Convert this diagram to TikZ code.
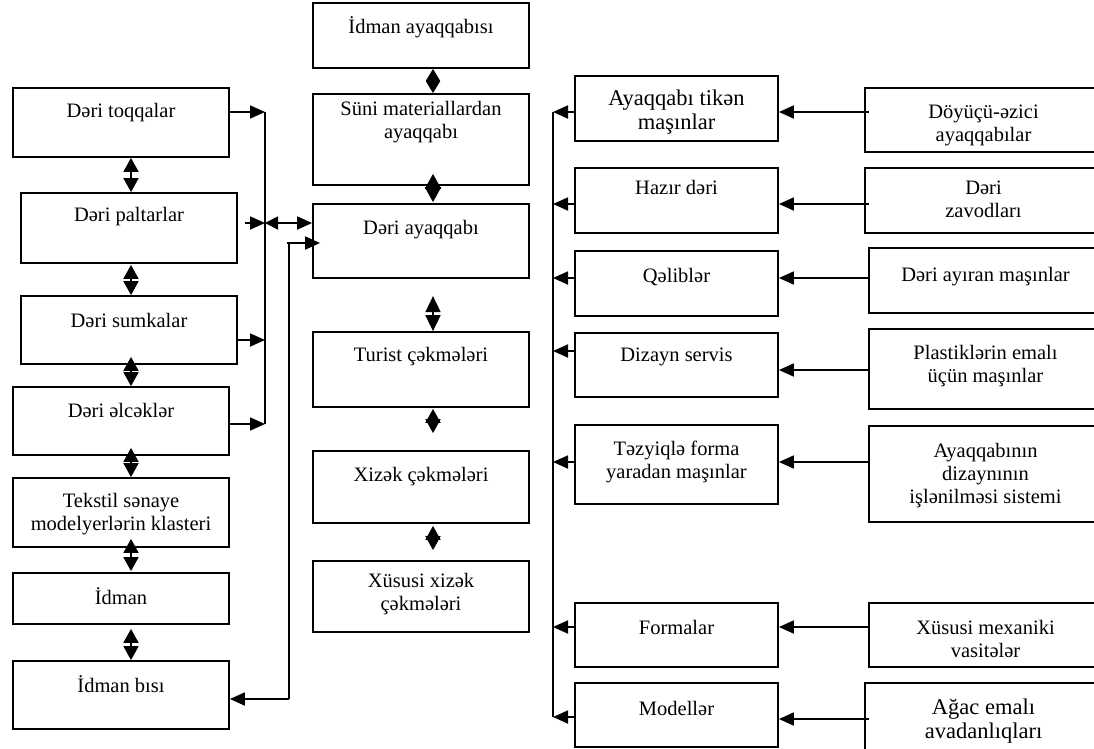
\documentclass[tikz,border=0pt]{standalone}
\usepackage{fontspec}
\setmainfont{Liberation Serif}
\usetikzlibrary{arrows.meta,calc}
\newcommand{\mkbox}[8]{% name, x1, y1, x2, y2, text y, font, text
  \node[box, minimum width={(#4)-(#2)}, minimum height={(#5)-(#3)}] (#1) at ({((#2)+(#4))/2},{((#3)+(#5))/2}) {};
  \node[txt, font=#7] (#1t) at ({((#2)+(#4))/2},{#6}) {#8};
}
\begin{document}
\begin{tikzpicture}[x=1pt,y=-1pt,
  box/.style={draw, line width=1.8pt, inner sep=0pt},
  txt/.style={align=center, inner sep=0pt},
  arr/.style={line width=1.8pt, -{Triangle[length=15pt,width=13pt]}},
  dbl/.style={line width=1.8pt, {Triangle[length=14pt,width=15pt]}-{Triangle[length=14pt,width=15pt]}},
  dblr/.style={line width=1.8pt, {Triangle[length=13pt,width=13pt]}-{Triangle[length=15pt,width=13pt]}},
  diam/.style={line width=1.8pt, {Triangle[length=15pt,width=16pt]}-{Triangle[length=15pt,width=16pt]}},
  line/.style={line width=1.8pt}]
\def\fn{\fontsize{20.5}{23}\selectfont}
\def\fb{\fontsize{22.5}{23.5}\selectfont}
\useasboundingbox (0,0) rectangle (1094,748);
\clip (0,0) rectangle (1094,748);
% left column
\mkbox{b1}{13}{88}{229}{157}{113}{\fn}{Dəri toqqalar}
\mkbox{b2}{21}{193}{237}{263}{217}{\fn}{Dəri paltarlar}
\mkbox{b3}{21}{296}{237}{364}{320}{\fn}{Dəri sumkalar}
\mkbox{b4}{13}{387}{229}{455}{410}{\fn}{Dəri əlcəklər}
\mkbox{b5}{13}{478}{229}{547}{514}{\fn}{Tekstil sənaye\\modelyerlərin klasteri}
\mkbox{b6}{13}{573}{229}{624}{596}{\fn}{İdman}
\mkbox{b7}{13}{661}{229}{729}{684}{\fn}{İdman bısı}
% middle column
\mkbox{m1}{313}{3}{529}{68}{27}{\fn}{İdman ayaqqabısı}
\mkbox{m2}{313}{94}{529}{185}{122}{\fn}{Süni materiallardan\\ayaqqabı}
\mkbox{m3}{313}{204}{529}{278}{230}{\fn}{Dəri ayaqqabı}
\mkbox{m4}{313}{332}{529}{407}{357}{\fn}{Turist çəkmələri}
\mkbox{m5}{313}{451}{529}{523}{477}{\fn}{Xizək çəkmələri}
\mkbox{m6}{313}{561}{529}{632}{594}{\fn}{Xüsusi xizək\\çəkmələri}
% right column
\mkbox{r1}{575}{76}{778}{141}{112}{\fb}{Ayaqqabı tikən\\maşınlar}
\mkbox{r2}{575}{168}{778}{233}{187}{\fn}{Hazır dəri}
\mkbox{r3}{575}{251}{778}{316}{277}{\fn}{Qəliblər}
\mkbox{r4}{575}{333}{778}{397}{357}{\fn}{Dizayn servis}
\mkbox{r5}{575}{425}{778}{504}{462}{\fn}{Təzyiqlə forma\\yaradan maşınlar}
\mkbox{r6}{575}{603}{778}{667}{627}{\fn}{Formalar}
\mkbox{r7}{575}{683}{778}{747}{708}{\fn}{Modellər}
% far right column
\mkbox{s1}{865}{88}{1102}{152}{125}{\fn}{Döyüçü-əzici\\ayaqqabılar}
\mkbox{s2}{865}{168}{1102}{233}{199}{\fn}{Dəri\\zavodları}
\mkbox{s3}{869}{248}{1102}{313}{277}{\fn}{Dəri ayıran maşınlar}
\mkbox{s4}{869}{329}{1102}{409}{366}{\fn}{Plastiklərin emalı\\üçün maşınlar}
\mkbox{s5}{869}{426}{1102}{522}{476}{\fn}{Ayaqqabının\\dizaynının\\işlənilməsi sistemi}
\mkbox{s6}{869}{603}{1102}{667}{639}{\fn}{Xüsusi mexaniki\\vasitələr}
\mkbox{s7}{865}{683}{1102}{750}{721}{\fb}{Ağac emalı\\avadanlıqları}
% coordinates
\coordinate (ax) at (131,0);
\coordinate (mx) at (433,0);
\coordinate (L1) at (265,112);
\coordinate (L2) at (265,223);
\coordinate (L3) at (265,340);
\coordinate (L4) at (265,424);
\coordinate (R1) at (287,243);
\coordinate (R2) at (289,699);
\coordinate (B1) at (553,112);
\coordinate (B7) at (553,717);
% left vertical double arrows
\draw[dbl] (b1.south -| ax) -- (b2.north -| ax);
\draw[dbl] ($(b2.south -| ax)+(0,1)$) -- (b3.north -| ax);
\draw[dbl] ($(b3.south -| ax)+(0,-8)$) -- (b4.north -| ax);
\draw[dbl] ($(b4.south -| ax)+(0,-8)$) -- (b5.north -| ax);
\draw[dbl] ($(b5.south -| ax)+(0,-9)$) -- ($(b6.north -| ax)+(0,-1)$);
\draw[dbl] ($(b6.south -| ax)+(0,4)$) -- (b7.north -| ax);
% left bus
\draw[line] (L1) -- (L4);
\draw[arr] (b1.east |- L1) -- (L1);
\draw[arr] ($(b2.east |- L2)+(7,0)$) -- (L2);
\draw[arr] (b3.east |- L3) -- (L3);
\draw[arr] (b4.east |- L4) -- (L4);
\draw[dblr] (L2) -- (m3.west |- L2);
% second bus
\draw[line] ($(R1)+(2,0)$) -- (R2);
\draw[arr] (R1) -- ($(m3.west |- R1)+(8,0)$);
\draw[arr] (R2) -- (b7.east |- R2);
% middle arrows
\draw[dbl, {Triangle[length=12pt,width=14pt]}-{Triangle[length=12pt,width=14pt]}] (m1.south -| mx) -- (m2.north -| mx);
\draw[diam] ($(m2.south -| mx)+(0,-12)$) -- ($(m3.north -| mx)+(0,-1)$);
\draw[dbl, {Triangle[length=16pt,width=15pt]}-{Triangle[length=16pt,width=15pt]}] ($(m4.north -| mx)+(0,-35)$) -- (m4.north -| mx);
\draw[dbl] ($(m4.south -| mx)+(0,1)$) -- ($(m5.north -| mx)+(0,-17)$);
\draw[dbl] ($(m5.south -| mx)+(0,2)$) -- ($(m6.north -| mx)+(0,-10)$);
% right bus
\draw[line] (B1) -- (B7);
\draw[arr] (r1.west |- B1) -- (B1);
\draw[arr] (r2.west |- 0,204) -- (553,204);
\draw[arr] (r3.west |- 0,278) -- (553,278);
\draw[arr] (r4.west |- 0,351) -- (553,351);
\draw[arr] (r5.west |- 0,462) -- (553,462);
\draw[arr] (r6.west |- 0,627) -- (553,627);
\draw[arr] (r7.west |- B7) -- (B7);
% far right to right
\draw[arr] ($(s1.west |- 0,112)+(5,0)$) -- (r1.east |- 0,112);
\draw[arr] ($(s2.west |- 0,204)+(5,0)$) -- (r2.east |- 0,204);
\draw[arr] (s3.west |- 0,278) -- (r3.east |- 0,278);
\draw[arr] (s4.west |- 0,370) -- (r4.east |- 0,370);
\draw[arr] (s5.west |- 0,462) -- (r5.east |- 0,462);
\draw[arr] (s6.west |- 0,627) -- (r6.east |- 0,627);
\draw[arr] ($(s7.west |- 0,719)+(5,0)$) -- (r7.east |- 0,719);
\end{tikzpicture}
\end{document}
